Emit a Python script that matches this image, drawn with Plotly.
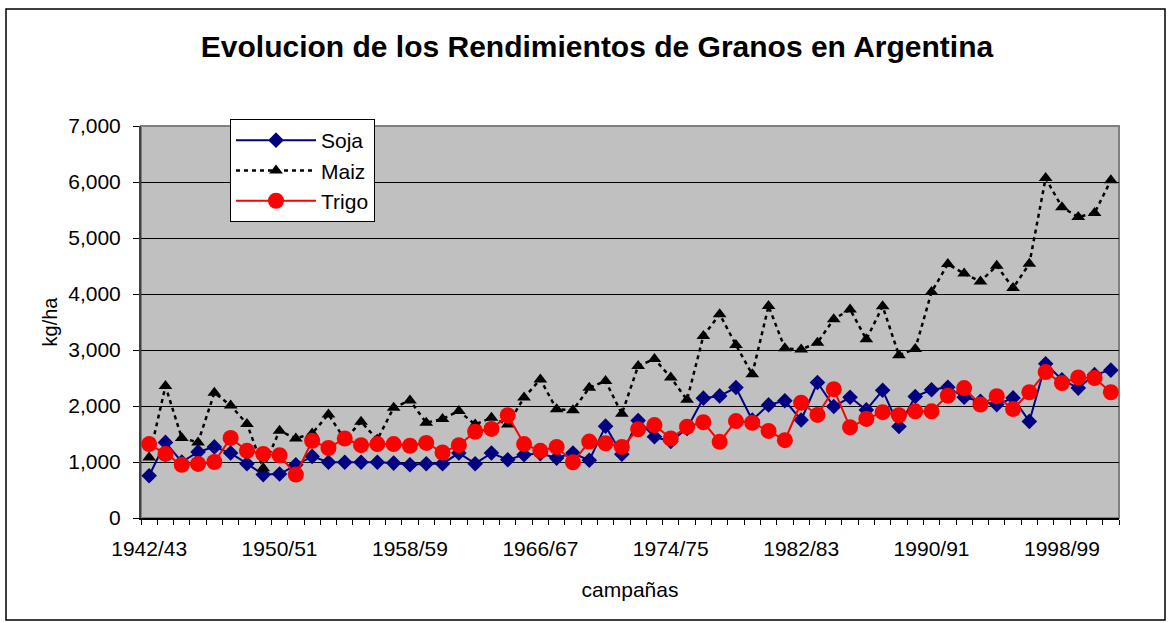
import plotly.graph_objects as go

categories = [
    "1942/43", "1943/44", "1944/45", "1945/46", "1946/47", "1947/48", "1948/49", "1949/50",
    "1950/51", "1951/52", "1952/53", "1953/54", "1954/55", "1955/56", "1956/57", "1957/58",
    "1958/59", "1959/60", "1960/61", "1961/62", "1962/63", "1963/64", "1964/65", "1965/66",
    "1966/67", "1967/68", "1968/69", "1969/70", "1970/71", "1971/72", "1972/73", "1973/74",
    "1974/75", "1975/76", "1976/77", "1977/78", "1978/79", "1979/80", "1980/81", "1981/82",
    "1982/83", "1983/84", "1984/85", "1985/86", "1986/87", "1987/88", "1988/89", "1989/90",
    "1990/91", "1991/92", "1992/93", "1993/94", "1994/95", "1995/96", "1996/97", "1997/98",
    "1998/99", "1999/00", "2000/01", "2001/02",
]

soja = [755, 1350, 1000, 1180, 1270, 1160, 970, 775, 785, 950,
        1100, 995, 995, 995, 995, 980, 950, 970, 970, 1160,
        970, 1160, 1040, 1130, 1150, 1070, 1160, 1030, 1640, 1140,
        1740, 1450, 1365, 1600, 2140, 2180, 2330, 1750, 2020, 2095,
        1750, 2420, 1990, 2155, 1930, 2280, 1635, 2170, 2290, 2335,
        2155, 2085, 2025, 2145, 1725, 2755, 2470, 2320, 2560, 2640]

maiz = [1080, 2355, 1430, 1350, 2235, 2010, 1680, 890, 1560, 1420,
        1510, 1850, 1400, 1720, 1400, 1970, 2100, 1700, 1770, 1910,
        1670, 1790, 1670, 2150, 2475, 1940, 1925, 2325, 2445, 1860,
        2715, 2840, 2510, 2110, 3250, 3640, 3090, 2565, 3785, 3030,
        3010, 3130, 3550, 3725, 3190, 3780, 2905, 3020, 4035, 4535,
        4365, 4225, 4505, 4105, 4540, 6070, 5550, 5375, 5445, 6030]

trigo = [1320, 1145, 950, 965, 1000, 1430, 1200, 1145, 1120, 775,
         1380, 1250, 1420, 1300, 1320, 1320, 1290, 1340, 1170, 1300,
         1540, 1590, 1835, 1320, 1200, 1270, 995, 1365, 1335, 1270,
         1585, 1660, 1420, 1630, 1710, 1360, 1730, 1700, 1555, 1390,
         2060, 1840, 2300, 1620, 1770, 1890, 1835, 1905, 1905, 2185,
         2320, 2025, 2175, 1945, 2245, 2605, 2410, 2510, 2500, 2245]

label_every = 8
xidx = list(range(len(categories)))
tick_idx = xidx[::label_every]
tick_txt = [categories[i] for i in tick_idx]

FONT = "Arial, Liberation Sans, sans-serif"

fig = go.Figure()
fig.add_trace(go.Scatter(
    x=xidx, y=soja, name="Soja", mode="lines+markers",
    line=dict(color="#000080", width=2),
    marker=dict(symbol="diamond", size=12, color="#000080"),
    customdata=categories,
))
fig.add_trace(go.Scatter(
    x=xidx, y=maiz, name="Maiz", mode="lines+markers",
    line=dict(color="#000000", width=2.5, dash="4px,4px"),
    marker=dict(symbol="triangle-up", size=12, color="#000000"),
    customdata=categories,
))
fig.add_trace(go.Scatter(
    x=xidx, y=trigo, name="Trigo", mode="lines+markers",
    line=dict(color="#FF0000", width=2),
    marker=dict(symbol="circle", size=16, color="#FF0000"),
    customdata=categories,
))

L, R, T, B = 141, 53, 126, 105
W, H = 1172, 623
pw, ph = W - L - R, H - T - B

def px_x(p):
    return (p - L) / pw

def px_y(p):
    return (H - B - p) / ph

fig.update_layout(
    width=W, height=H,
    margin=dict(l=L, r=R, t=T, b=B, autoexpand=False),
    paper_bgcolor="white",
    plot_bgcolor="#C0C0C0",
    font=dict(family=FONT, color="black", size=21),
    title=dict(
        text="<b>Evolucion de los Rendimientos de Granos en Argentina</b>",
        font=dict(family=FONT, size=30, color="black"),
        xref="container", yref="container",
        x=597 / W, y=1 - 46 / H, xanchor="center", yanchor="middle",
    ),
    showlegend=True,
    legend=dict(
        x=px_x(230), y=px_y(119), xanchor="left", yanchor="top",
        bgcolor="white", bordercolor="black", borderwidth=1,
        font=dict(family=FONT, size=21, color="black"),
        itemwidth=80,
        tracegroupgap=0,
    ),
    xaxis=dict(
        range=[-0.5, len(categories) - 0.5],
        tickmode="array", tickvals=tick_idx, ticktext=tick_txt,
        ticks="", showgrid=False, zeroline=False,
        showline=True, linecolor="black", linewidth=1.5,
        ticklabelstandoff=11,
        tickfont=dict(family=FONT, size=21, color="black"),
        minor=dict(tick0=-0.5, dtick=1, ticks="outside", ticklen=5,
                   tickcolor="black", tickwidth=1, showgrid=False),
        title=dict(text="campañas", font=dict(family=FONT, size=21, color="black"),
                   standoff=23),
        automargin=False,
    ),
    yaxis=dict(
        range=[0, 7000], dtick=1000, tickformat=",",
        ticks="outside", ticklen=6, tickcolor="black", tickwidth=1,
        showgrid=True, gridcolor="black", gridwidth=1,
        zeroline=False,
        showline=True, linecolor="#404040", linewidth=2,
        ticklabelstandoff=8,
        tickfont=dict(family=FONT, size=21, color="black"),
        title=dict(text="kg/ha", font=dict(family=FONT, size=20, color="black"),
                   standoff=5),
        automargin=False,
    ),
    shapes=[
        dict(type="rect", xref="paper", yref="paper", x0=0, y0=0, x1=1, y1=1,
             line=dict(color="#808080", width=2), layer="below"),
        dict(type="rect", xref="paper", yref="paper",
             x0=px_x(6), x1=px_x(1165), y0=px_y(620), y1=px_y(9),
             line=dict(color="black", width=1.5), fillcolor="rgba(0,0,0,0)",
             layer="below"),
    ],
)

fig.write_html("out.html", config={"displayModeBar": False},
               post_script="document.body.style.margin='0';")
